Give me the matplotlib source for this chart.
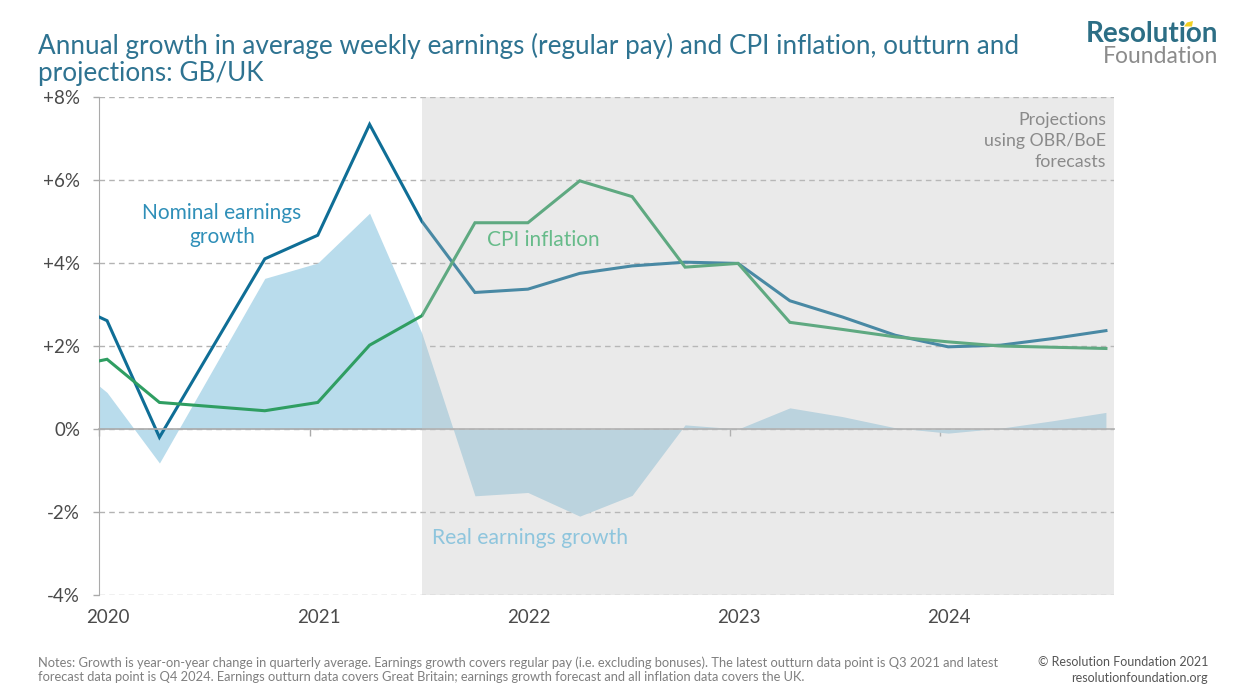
import matplotlib
matplotlib.use("Agg")
import matplotlib.pyplot as plt
from matplotlib.patches import Polygon
import pandas as pd

plt.rcParams["font.family"] = ["Lato", "DejaVu Sans"]

# quarterly data points (year-on-year growth, %)
dates = ["2020-01-01", "2020-01-15", "2020-04-15", "2020-10-15", "2021-01-15",
         "2021-04-15", "2021-07-15", "2021-10-15", "2022-01-15", "2022-04-15",
         "2022-07-15", "2022-10-15", "2023-01-15", "2023-04-15", "2023-07-15",
         "2023-10-15", "2024-01-15", "2024-04-15", "2024-07-15", "2024-10-15"]
nominal = [2.70, 2.61, -0.20, 4.10, 4.67, 7.34, 5.00, 3.29, 3.37, 3.75,
           3.93, 4.02, 3.99, 3.09, 2.70, 2.26, 1.98, 2.02, 2.18, 2.37]
cpi = [1.64, 1.68, 0.64, 0.44, 0.64, 2.02, 2.73, 4.97, 4.97, 5.98,
       5.60, 3.90, 3.99, 2.57, 2.40, 2.22, 2.10, 2.00, 1.97, 1.94]
real = [1.04, 0.88, -0.82, 3.63, 4.00, 5.20, 2.30, -1.61, -1.53, -2.10,
        -1.60, 0.10, 0.00, 0.51, 0.30, 0.03, -0.10, 0.02, 0.20, 0.40]

last_outturn = "2021-07-15"
x_start, x_end = "2020-01-01", "2024-10-29"
years = ["2020", "2021", "2022", "2023", "2024"]
y_ticks = [-4, -2, 0, 2, 4, 6, 8]
y_labels = ["-4%", "-2%", "0%", "+2%", "+4%", "+6%", "+8%"]

W, H = 1242, 699


def fx(px):
    return px / W


def fy(py):
    return 1 - py / H


x = pd.to_datetime(dates)

fig = plt.figure(figsize=(W / 100, H / 100), dpi=100)
ax = fig.add_axes([fx(99), fy(595), fx(1114) - fx(99), fy(97) - fy(595)])

blue = "#0f6e96"
green = "#2f9e62"
area = "#b9dcec"
grey = "#aaaaaa"

ax.fill_between(x, real, 0, color=area, lw=0, zorder=2)
ax.plot(x, nominal, color=blue, lw=2.2, zorder=3, solid_joinstyle="miter")
ax.plot(x, cpi, color=green, lw=2.2, zorder=3, solid_joinstyle="miter")

# projection period shading laid over the data
ax.axvspan(pd.Timestamp(last_outturn), pd.Timestamp(x_end), color="#c2c2c2",
           alpha=0.33, lw=0, zorder=4)

ax.set_xlim(pd.Timestamp(x_start), pd.Timestamp(x_end))
ax.set_ylim(-4, 8)

for s in ["top", "right"]:
    ax.spines[s].set_visible(False)
ax.spines["left"].set_color(grey)
ax.spines["bottom"].set_color(grey)
ax.spines["bottom"].set_position(("data", 0))
ax.spines["bottom"].set_linewidth(1.2)
ax.spines["bottom"].set_zorder(3.5)

ax.set_yticks(y_ticks)
ax.set_yticklabels(y_labels)
ax.tick_params(axis="y", length=4.5, width=1, color=grey, pad=9,
               labelsize=13.5, labelcolor="#4a4a4a")
ax.yaxis.grid(True, linestyle=(0, (4, 3)), color="#b3b3b3", lw=1)
ax.set_axisbelow(True)

year_dates = pd.to_datetime([y + "-01-01" for y in years])
ax.set_xticks(year_dates)
ax.set_xticklabels([])
ax.tick_params(axis="x", length=5, width=1, color=grey, direction="out")
for d, lab in zip(year_dates, years):
    ax.annotate(lab, xy=(d, 0), xycoords=("data", "axes fraction"),
                xytext=(6.5, -10), textcoords="offset points",
                ha="center", va="top", fontsize=13.5, color="#4a4a4a")

# series labels
ax.annotate("Nominal earnings\ngrowth", xy=(fx(222), fy(225)),
            xycoords="figure fraction", ha="center", va="center",
            fontsize=15, color="#2f8fb8", linespacing=1.3, zorder=6)
ax.annotate("CPI inflation", xy=(fx(543), fy(240)), xycoords="figure fraction",
            ha="center", va="center", fontsize=15, color="#67bb8a", zorder=6)
ax.annotate("Real earnings growth", xy=(fx(530), fy(538)),
            xycoords="figure fraction", ha="center", va="center",
            fontsize=15.2, color="#8ec5dd", zorder=6)
ax.annotate("Projections\nusing OBR/BoE\nforecasts", xy=(fx(1106), fy(141)),
            xycoords="figure fraction", ha="right", va="center",
            fontsize=12.8, color="#8a8a8a", linespacing=1.37, zorder=6)

# title
title_col = "#2e7391"
fig.text(fx(38), fy(46), "Annual growth in average weekly earnings (regular pay) "
         "and CPI inflation, outturn and", fontsize=18.8, color=title_col,
         va="center", ha="left")
fig.text(fx(38), fy(74), "projections: GB/UK", fontsize=18.8, color=title_col,
         va="center", ha="left")

# logo
fig.text(fx(1218), fy(42), "Resolution", fontsize=20, fontweight="bold",
         color="#2c6e85", ha="right", va="baseline")
fig.text(fx(1218), fy(63), "Foundation", fontsize=16.5, color="#8c8c8c",
         ha="right", va="baseline")
accent = Polygon([(fx(1184), fy(26.5)), (fx(1192), fy(26.5)), (fx(1193), fy(21)),
                  (fx(1187), fy(22.5))], closed=True, transform=fig.transFigure,
                 color="#f2d022", lw=0)
fig.patches.append(accent)

# notes
note_font = ["Liberation Sans Narrow", "Lato", "DejaVu Sans"]
notes = ("Notes: Growth is year-on-year change in quarterly average. Earnings growth "
         "covers regular pay (i.e. excluding bonuses). The latest outturn data point "
         "is Q3 2021 and latest\nforecast data point is Q4 2024. Earnings outturn data "
         "covers Great Britain; earnings growth forecast and all inflation data covers the UK.")
fig.text(fx(38), fy(670), notes, fontsize=9.3, color="#7f7f7f", family=note_font,
         ha="left", va="center", linespacing=1.2)
fig.text(fx(1208), fy(670), "\u00a9 Resolution Foundation 2021\nresolutionfoundation.org",
         fontsize=9.0, color="#555555", family=note_font, ha="right", va="center",
         linespacing=1.3, multialignment="right")

fig.savefig("out.png", dpi=100)
